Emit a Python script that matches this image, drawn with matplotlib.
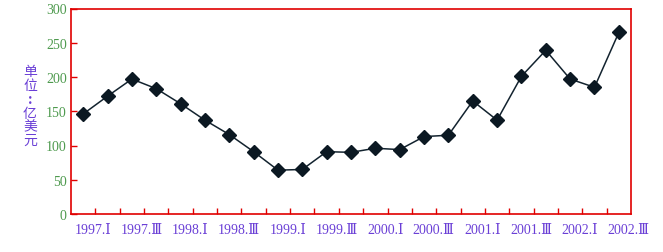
import matplotlib
matplotlib.use("Agg")
import matplotlib.pyplot as plt

values = [146, 172, 197, 183, 161, 137, 116, 91, 64, 65, 91, 90, 96, 94,
          113, 115, 165, 137, 201, 239, 197, 185, 265]
tick_labels = ["1997.Ⅰ", "1997.Ⅲ", "1998.Ⅰ", "1998.Ⅲ", "1999.Ⅰ", "1999.Ⅲ",
               "2000.Ⅰ", "2000.Ⅲ", "2001.Ⅰ", "2001.Ⅲ", "2002.Ⅰ", "2002.Ⅲ"]
yticks = [0, 50, 100, 150, 200, 250, 300]
ylabel_chars = ["单", "位", ":", "亿", "美", "元"]

fams = ["Liberation Serif", "DejaVu Serif", "Noto Sans CJK SC"]
purple = "#6a3fd6"
green = "#4e9a4e"
red = "#e00000"

fig = plt.figure(figsize=(6.63, 2.53), dpi=100)
ax = fig.add_axes([71/663, 38/253, 560/663, 205.5/253])
x = list(range(len(values)))
ax.plot(x, values, color="#13232f", lw=1.1, marker="D", ms=7,
        mfc="#0b1822", mec="#0b1822")
ax.set_xlim(-0.5, len(values) - 0.5)
ax.set_ylim(0, 300)
for s in ax.spines.values():
    s.set_color(red)
    s.set_linewidth(1.2)
ax.set_xticks([i + 0.5 for i in range(len(values) - 1)])
ax.set_xticklabels([])
ax.set_yticks(yticks)
ax.set_yticklabels([str(v) for v in yticks], family=fams, color=green, fontsize=10)
ax.tick_params(axis="both", direction="in", colors=red, length=4, width=1)
ax.tick_params(axis="y", labelcolor=green, pad=3)

for k, lab in enumerate(tick_labels):
    ax.text(2 * k + 0.4, -22, lab, ha="center", va="center", color=purple,
            fontsize=10, family=fams, clip_on=False)

ys = [72, 86, 100, 114, 127, 141]
for ch, yy in zip(ylabel_chars, ys):
    fig.text(30/663, 1 - yy/253, ch, ha="center", va="center", color=purple,
             fontsize=10, family=["Noto Sans CJK SC", "DejaVu Sans"],
             weight="bold" if ch == ":" else "normal")

fig.savefig("out.png", dpi=100)
